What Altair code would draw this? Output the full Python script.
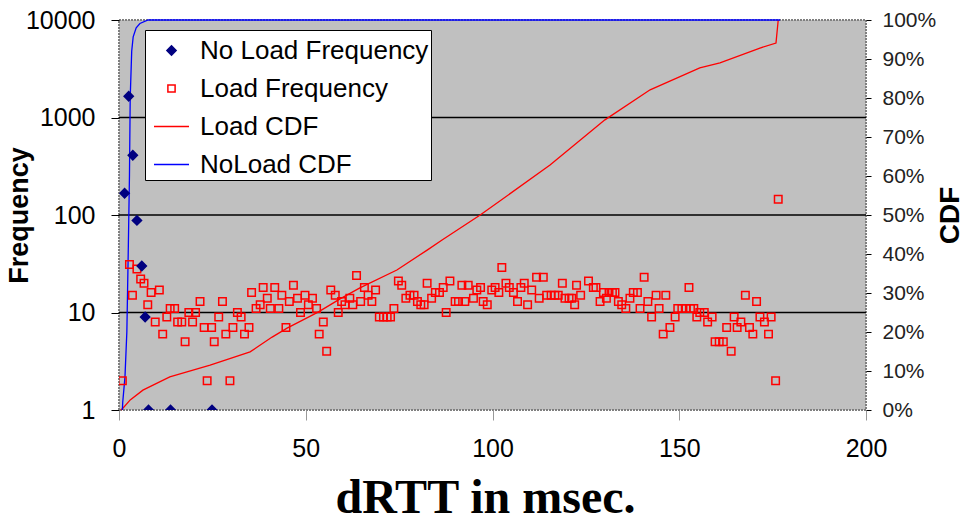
import altair as alt
import pandas as pd

# ---------------- data ----------------
series_names = ["No Load Frequency", "Load Frequency", "Load CDF", "NoLoad CDF"]
series_colors = ["#000080", "#FF0000", "#FF0000", "#0000FF"]
series_fills = ["#000080", "transparent", "transparent", "transparent"]

load_x = [0.9, 2.8, 3.6, 4.8, 5.8, 6.7, 7.7, 8.6, 9.7, 10.8,
          11.7, 12.8, 13.7, 14.9, 15.7, 16.8, 17.7, 18.7, 19.7, 20.5,
          21.7, 22.8, 23.6, 24.8, 25.5, 26.7, 27.7, 28.6, 29.7, 30.5,
          31.7, 32.7, 33.6, 34.8, 35.5, 36.7, 37.8, 38.6, 39.7, 40.5,
          41.7, 42.8, 43.6, 44.7, 45.6, 46.7, 47.8, 48.6, 49.8, 50.7,
          51.8, 52.9, 53.6, 54.7, 55.6, 56.7, 57.9, 58.7, 59.6, 60.5,
          61.8, 62.6, 63.6, 64.7, 65.7, 66.7, 67.7, 68.7, 69.7, 70.8,
          71.8, 72.7, 73.6, 74.8, 75.7, 76.8, 77.9, 79.0, 79.9, 80.8,
          81.7, 82.5, 83.7, 84.7, 85.8, 86.8, 87.6, 88.6, 90.0, 90.9,
          91.8, 92.6, 93.5, 94.9, 95.8, 96.8, 97.5, 98.6, 99.8, 100.7,
          101.7, 102.5, 103.6, 104.5, 105.6, 106.7, 107.6, 108.5, 109.4, 110.5,
          111.8, 112.5, 113.6, 114.5, 115.7, 116.7, 117.6, 118.7, 119.4, 120.5,
          121.2, 122.0, 122.5, 123.6, 125.7, 127.0, 127.7, 128.8, 129.7, 130.5,
          131.2, 132.1, 132.8, 133.7, 134.6, 135.7, 136.8, 137.7, 138.8, 139.5,
          140.6, 141.6, 142.6, 143.8, 144.6, 145.7, 146.4, 147.5, 148.9, 149.6,
          150.7, 151.8, 152.6, 153.0, 153.9, 154.7, 155.5, 156.7, 157.6, 158.8,
          159.6, 160.7, 161.8, 162.7, 163.9, 164.7, 165.5, 166.5, 167.7, 168.8,
          169.7, 170.7, 171.6, 172.8, 173.9, 174.6, 175.8, 176.5]
load_freq = [2, 31, 15, 28, 22, 20, 12, 16, 8, 17,
             6, 9, 11, 11, 8, 8, 5, 10, 8, 10,
             13, 7, 2, 7, 5, 9, 13, 6, 2, 7,
             10, 9, 6, 7, 16, 11, 12, 18, 14, 11,
             18, 11, 15, 7, 13, 19, 14, 10, 15, 12,
             14, 11, 6, 8, 4, 17, 15, 10, 13, 12,
             14, 12, 24, 13, 18, 15, 13, 17, 9, 9,
             9, 9, 11, 21, 19, 14, 15, 15, 13, 12,
             12, 20, 14, 16, 16, 18, 10, 21, 13, 13,
             19, 13, 19, 14, 17, 18, 13, 12, 17, 18,
             16, 29, 20, 18, 16, 13, 18, 20, 12, 17,
             23, 14, 23, 15, 15, 15, 15, 20, 14, 14,
             14, 12, 19, 15, 21, 18, 18, 13, 16, 14,
             16, 16, 16, 13, 12, 11, 14, 16, 16, 11,
             23, 13, 9, 15, 11, 6, 15, 7, 9, 11,
             11, 11, 18, 11, 11, 9, 10, 10, 8, 9,
             5, 5, 5, 7, 4, 9, 7, 8, 15, 7,
             6, 13, 9, 8, 6, 9, 2, 145]

noload_x = [1.5, 2.6, 3.7, 4.8, 6.1, 7.0, 7.9, 13.8, 24.9]
noload_freq = [167, 1650, 410, 88, 30, 9, 1, 1, 1]

load_cdf_x = [0.5, 1.1, 3.0, 6.4, 13.6, 24.4, 35.1, 41.0, 45.0, 53.3, 59.2, 64.5,
              74.4, 82.5, 86.5, 96.7, 115.4, 130.1, 142.2, 155.5, 160.9, 171.6,
              175.9, 176.5]
load_cdf = [0.0, 0.005, 0.026, 0.051, 0.085, 0.115, 0.149, 0.187, 0.21, 0.251, 0.285, 0.313,
            0.359, 0.41, 0.436, 0.5, 0.628, 0.744, 0.821, 0.877, 0.89, 0.928,
            0.941, 1.0]

noload_cdf_x = [0.9, 1.0, 1.6, 2.1, 2.5, 2.8, 3.0, 3.4, 3.8, 4.6, 5.6, 7.8, 177.0]
noload_cdf = [0.0, 0.02, 0.085, 0.2, 0.42, 0.6, 0.8, 0.92, 0.957, 0.98, 0.991, 1.0, 1.0]

grid_vals = [10, 100, 1000]
x_ticks = [0, 50, 100, 150, 200]
freq_ticks = [1, 10, 100, 1000, 10000]
cdf_ticks = [0, 0.1, 0.2, 0.3, 0.4, 0.5, 0.6, 0.7, 0.8, 0.9, 1.0]

# ---------------- tables ----------------
pts_df = pd.concat([
    pd.DataFrame({"x": load_x, "freq": load_freq, "series": "Load Frequency"}),
    pd.DataFrame({"x": noload_x, "freq": noload_freq, "series": "No Load Frequency"}),
], ignore_index=True)
cdf_df = pd.concat([
    pd.DataFrame({"x": load_cdf_x, "cdf": load_cdf, "series": "Load CDF"}),
    pd.DataFrame({"x": noload_cdf_x, "cdf": noload_cdf, "series": "NoLoad CDF"}),
], ignore_index=True)
grid_df = pd.DataFrame({"freq": grid_vals})

SANS = "Liberation Sans"

x_enc = alt.X(
    "x:Q",
    scale=alt.Scale(domain=[0, 200], nice=False, zero=False),
    axis=alt.Axis(values=x_ticks, title="dRTT in msec.", titleFont="Liberation Serif",
                  titleFontSize=48, titleFontWeight="bold", titleColor="black",
                  titleX=366, titleY=102, titleAlign="center", titleBaseline="alphabetic",
                  labelFont=SANS, labelFontSize=25, labelColor="black", labelPadding=16,
                  labelFlush=False, tickSize=10, tickColor="#999999", domain=False, grid=False),
)

log_scale = alt.Scale(type="log", domain=[1, 10000], nice=False)

y_freq = alt.Y(
    "freq:Q", scale=log_scale,
    axis=alt.Axis(orient="left", values=freq_ticks, format="d", title="Frequency",
                  titleFont=SANS, titleFontSize=27, titleFontWeight="bold", titleColor="black",
                  titleAngle=270, titleX=-92, titleY=195, titleAlign="center",
                  titleBaseline="alphabetic",
                  labelFont=SANS, labelFontSize=25, labelColor="black", labelPadding=16,
                  labelFlush=False, labelBaseline="middle",
                  tickSize=8, tickColor="black", domain=False, grid=False),
)

y_cdf = alt.Y(
    "cdf:Q", scale=alt.Scale(domain=[0, 1], nice=False, zero=False),
    axis=alt.Axis(orient="right", values=cdf_ticks, format=".0%", title="CDF",
                  titleFont=SANS, titleFontSize=28, titleFontWeight="bold", titleColor="black",
                  titleAngle=270, titleX=92, titleY=195, titleAlign="center",
                  titleBaseline="alphabetic",
                  labelFont=SANS, labelFontSize=21, labelColor="#222222", labelPadding=11,
                  labelFlush=False, labelBaseline="middle",
                  tickSize=5, tickColor="black", domain=False, grid=False),
)

legend = alt.Legend(
    title=None, orient="none", legendX=26, legendY=10,
    fillColor="white", strokeColor="black", padding=2, symbolOffset=6,
    labelFont=SANS, labelFontSize=26, labelColor="black", labelOffset=10, labelLimit=400,
    rowPadding=6, symbolStrokeWidth=1.5, symbolOpacity=1,
    symbolType={"expr": "datum.value === 'No Load Frequency' ? 'diamond' : (datum.value === 'Load Frequency' ? 'square' : 'stroke')"},
    symbolSize={"expr": "datum.value === 'No Load Frequency' ? 85 : (datum.value === 'Load Frequency' ? 52 : 1225)"},
)

stroke_enc = alt.Stroke("series:N", scale=alt.Scale(domain=series_names, range=series_colors),
                        legend=legend)
fill_enc = alt.Fill("series:N", scale=alt.Scale(domain=series_names, range=series_fills),
                    legend=legend)

grid_layer = alt.Chart(grid_df).mark_rule(color="black", strokeWidth=1.5).encode(
    y=alt.Y("freq:Q", scale=log_scale, axis=None)
)

cdf_layer = alt.Chart(cdf_df).mark_line(strokeWidth=1.3).encode(
    x=x_enc, y=y_cdf, stroke=stroke_enc, order=alt.Order("x:Q")
)

pts_layer = alt.Chart(pts_df).mark_point(opacity=1, strokeWidth=1.5, clip=True).encode(
    x=x_enc, y=y_freq, stroke=stroke_enc, fill=fill_enc,
    shape=alt.condition(alt.datum.series == "No Load Frequency", alt.value("diamond"), alt.value("square")),
    size=alt.condition(alt.datum.series == "No Load Frequency", alt.value(85), alt.value(56)),
)

chart = alt.layer(grid_layer, cdf_layer, pts_layer).resolve_scale(y="independent").properties(
    width=747, height=390,
    padding={"left": 119, "top": 20, "right": 111, "bottom": 112},
    autosize=alt.AutoSizeParams(type="none"),
    background="white",
).configure_view(
    fill="#C0C0C0", stroke="#7f7f7f", strokeDash=[2, 1], strokeWidth=2
)

chart.save("out.html", embed_options={"renderer": "svg", "actions": False})
